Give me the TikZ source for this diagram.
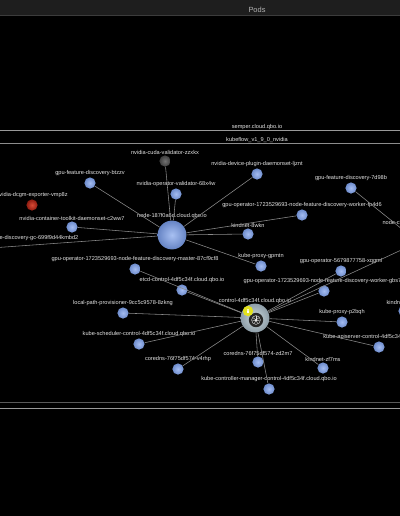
\documentclass[tikz,border=0pt]{standalone}
\usepackage{fontspec}
\setmainfont{Liberation Sans}
\definecolor{barbg}{HTML}{1E1E1E}
\definecolor{barline}{HTML}{3C3C3C}
\definecolor{lbltext}{HTML}{E4E4E4}
\definecolor{edgegray}{HTML}{8A8A8A}
\definecolor{podhi}{HTML}{A4BCF0}
\definecolor{podlo}{HTML}{6E8CCC}
\definecolor{hubhi}{HTML}{A8C0F2}
\definecolor{hublo}{HTML}{6684C4}
\definecolor{ctrlhi}{HTML}{CCD8DE}
\definecolor{ctrllo}{HTML}{8E9EA8}
\definecolor{failhi}{HTML}{D84A36}
\definecolor{faillo}{HTML}{8E1C10}
\definecolor{donehi}{HTML}{727272}
\definecolor{donelo}{HTML}{3E3E3E}
\definecolor{usryellow}{HTML}{E2E21E}
\tikzset{
  pod/.style={circle,minimum size=0.28cm,inner sep=0pt,shading=radial,
    inner color=podhi,outer color=podlo},
  failpod/.style={pod,inner color=failhi,outer color=faillo},
  donepod/.style={pod,inner color=donehi,outer color=donelo},
  hub/.style={circle,minimum size=0.72cm,inner sep=0pt,shading=radial,
    inner color=hubhi,outer color=hublo},
  ctrlhub/.style={hub,inner color=ctrlhi,outer color=ctrllo},
  lbl/.style={font=\fontsize{4}{4.5}\selectfont,text=lbltext,inner sep=0pt,
    label distance=0.5pt},
  edge/.style={draw=edgegray,line width=0.4pt},
  sep/.style={line width=0.6pt}
}
\begin{document}
\begin{tikzpicture}[x=0.025cm,y=-0.025cm]
      \useasboundingbox (0,0) rectangle (400,516);
      \clip (0,0) rectangle (400,516);
      \fill[black] (0,0) rectangle (400,516);
      % header
      \fill[barbg] (0,0) rectangle (400,15);
      \draw[barline,sep] (0,15.3)--(400,15.3);
      \node[font=\fontsize{5.3}{6}\selectfont,text=black!30,inner sep=0pt] (ttl) at (257,10) {Pods};
      % server and namespace bands
      \node[lbl] (srv) at (257,127) {semper.cloud.qbo.io};
      \draw[black!40,sep] (0,130)--(400,130);
      \node[lbl] (ns) at (257,140) {kubeflow\_v1\_9\_0\_nvidia};
      \draw[black!45,sep] (0,143.5)--(400,143.5);
      \draw[black!65,sep] (0,402)--(400,402);
      \draw[black!40,sep] (0,408.5)--(400,408.5);
      % nodes
      \node[hub,label={[lbl,label distance=1.2pt]above:node-187f0a6d.cloud.qbo.io}] (nodeA) at (172,235) {};
      \node[ctrlhub,label={[lbl,label distance=-0.4pt]above:control-4df5c34f.cloud.qbo.io}] (ctrl) at (255,318) {};
      \node[hub,label={[lbl,label distance=1.2pt]above:node-c53b1e27.cloud.qbo.io}] (nodeC) at (418,242) {};
      \coordinate (offr) at (440,232);
      % pods of node-187f0a6d
      \node[donepod,label={[lbl]above:nvidia-cuda-validator-zzxkx}] (cudaval) at (165,161) {};
      \node[pod,label={[lbl]above:gpu-feature-discovery-btzzv}] (gfdb) at (90,183) {};
      \node[pod,label={[lbl]above:nvidia-operator-validator-68x4w}] (opval) at (176,194) {};
      \node[failpod,label={[lbl]above:nvidia-dcgm-exporter-vmp8z}] (dcgm) at (32,205) {};
      \node[pod,label={[lbl]above:nvidia-container-toolkit-daemonset-c2ww7}] (ctk) at (72,227) {};
      \node[pod,label={[lbl]above:gpu-operator-1723529693-node-feature-discovery-gc-699f9d44kmbd2}] (gc) at (-9,248) {};
      \node[pod,label={[lbl]above:nvidia-device-plugin-daemonset-ljznt}] (devplug) at (257,174) {};
      \node[pod,label={[lbl]above:gpu-operator-1723529693-node-feature-discovery-worker-fp4d6}] (wfp) at (302,215) {};
      \node[pod,label={[lbl]above:kindnet-8wkn}] (kn8) at (248,234) {};
      \node[pod,label={[lbl]above:kube-proxy-gpmtn}] (kpg) at (261,266) {};
      % pods of control-4df5c34f
      \node[pod,label={[lbl]above:gpu-operator-1723529693-node-feature-discovery-master-87cf9cf8}] (master) at (135,269) {};
      \node[pod,label={[lbl]above:etcd-control-4df5c34f.cloud.qbo.io}] (etcd) at (182,290) {};
      \node[pod,label={[lbl]above:local-path-provisioner-9cc5c9578-8zkng}] (lpp) at (123,313) {};
      \node[pod,label={[lbl]above:kube-scheduler-control-4df5c34f.cloud.qbo.io}] (sched) at (139,344) {};
      \node[pod,label={[lbl]above:coredns-76f75df574-v4rhp}] (corev) at (178,369) {};
      \node[pod,label={[lbl]above:coredns-76f75df574-zd2m7}] (corez) at (258,362) {};
      \node[pod,label={[lbl]above:kube-controller-manager-control-4df5c34f.cloud.qbo.io}] (kcm) at (269,389) {};
      \node[pod,label={[lbl]above:kindnet-zf7ms}] (knz) at (323,368) {};
      \node[pod,label={[lbl]above:kube-apiserver-control-4df5c34f.cloud.qbo.io}] (apis) at (379,347) {};
      \node[pod,label={[lbl]above:kube-proxy-p2bqh}] (kpp) at (342,322) {};
      \node[pod,label={[lbl]above:gpu-operator-1723529693-node-feature-discovery-worker-gbs7q}] (wgbs) at (324,291) {};
      \node[pod,label={[lbl]above:gpu-operator-5679877758-xqgml}] (xq) at (341,271) {};
      % pods of node-c53b1e27
      \node[pod,label={[lbl]above:gpu-feature-discovery-7d98b}] (gfd7) at (351,188) {};
      \node[pod,label={[lbl]above:kindnet-k2v9c}] (knr) at (404,311) {};
      % links
      \foreach \p in {cudaval,gfdb,opval,ctk,gc,devplug,wfp,kn8,kpg}
        \draw[edge] (nodeA) -- (\p);
      \foreach \p in {master,etcd,lpp,sched,corev,corez,kcm,knz,apis,kpp,wgbs,xq}
        \draw[edge] (ctrl) -- (\p);
      \draw[edge] (ctrl) -- (offr);
      \draw[edge] (nodeC) -- (gfd7);
      \draw[edge] (nodeC) -- (knr);
      % control plane badge
      \coordinate (wheel) at (256,320);
      \fill[black!85] (wheel) circle (0.18cm);
      \draw[white!85!black,line width=0.3pt] (wheel) circle (0.11cm);
      \foreach \a in {0,...,6}
        \draw[white!85!black,line width=0.3pt] (wheel) -- ++(90+\a*360/7:0.09cm);
      \fill[white] (wheel) circle (0.025cm);
      \coordinate (usr) at (248,311);
      \fill[usryellow] (usr) circle (0.13cm);
      \fill[white] (usr) ++(0,-1) circle (0.03cm);
      \fill[white] (usr) ++(-1.2,0.3) rectangle ++(2.4,1.8);
     \end{tikzpicture}
\end{document}
